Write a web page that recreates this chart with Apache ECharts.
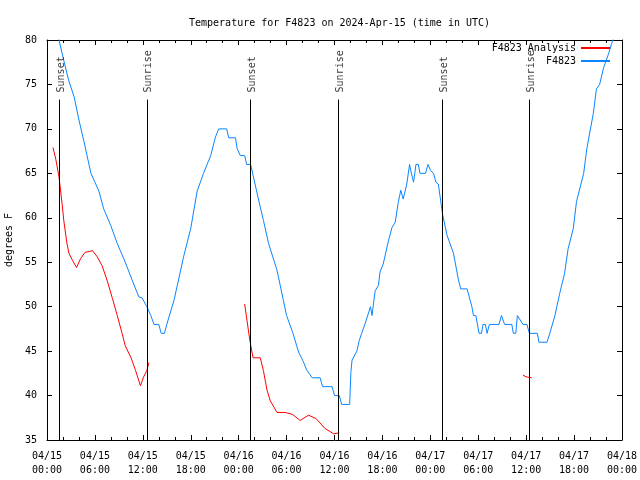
<!DOCTYPE html>
<html>
<head>
<meta charset="utf-8">
<script src="https://cdn.jsdelivr.net/npm/echarts@6/dist/echarts.min.js"></script>
<style>html,body{margin:0;padding:0;background:#fff}#c{width:640px;height:480px}</style>
</head>
<body>
<div id="c"></div>
<script>
// Hours since 2024-04-15 00:00 UTC
var xTickLabels = ['04/15\n00:00','04/15\n06:00','04/15\n12:00','04/15\n18:00','04/16\n00:00','04/16\n06:00','04/16\n12:00','04/16\n18:00','04/17\n00:00','04/17\n06:00','04/17\n12:00','04/17\n18:00','04/18\n00:00'];

var obsHours = [1.2,1.5,2.1,2.7,3.4,4.0,4.6,5.5,6.0,6.5,7.1,8,8.8,9.8,10.7,11.5,11.9,12.5,13,13.4,14,14.3,14.7,15,15.9,17.1,18.0,18.8,19.6,20.5,21.1,21.5,22.5,22.75,23.6,23.8,24.2,24.75,25,25.5,26.5,27.1,27.75,28,28.8,29.6,30,30.8,31.5,32.1,32.5,33.2,34.2,34.5,35.7,36,36.6,36.9,37.9,38.05,38.2,38.8,39.1,39.4,39.8,40.3,40.5,40.7,40.9,41.1,41.5,41.7,42.1,42.75,43.2,43.6,44,44.3,44.6,45.05,45.4,45.6,45.9,46.2,46.5,46.7,47.4,47.7,48.05,48.4,48.7,49,49.55,50.1,50.3,50.9,51.5,51.8,52.6,53.2,53.4,53.7,54.1,54.4,54.6,54.9,55.1,55.4,56.6,56.9,57.1,57.3,58.2,58.4,58.7,58.9,59.1,59.6,60.1,60.4,61.4,61.6,62.6,62.96,63.1,63.6,64.2,64.8,65.25,65.9,66.3,67.2,67.6,68.4,68.8,69.2,69.7,70.3,70.7,71.1];
var obsTemps = [81,80,77.7,75.5,73.6,71,68.7,65,64,63,61,59.1,57.1,55,52.9,51.1,51,50,49,48,48,47,47,48,50.7,55.6,58.8,63,65,67,69.1,70,70,69,69,67.8,67,67,66,66,62,59.7,57.1,57,54.1,50.7,49,47,44.9,43.8,42.9,42,42,41,41,40,40,39,39,42.6,44,45,46.2,47,48,49.4,50,49,50.5,51.8,52.4,53.9,54.8,57.4,58.9,59.5,61.8,63.1,62.1,63.8,66,65.1,64,66,66,65,65,66,65.3,65,64,63.8,60.3,58,58,56,53.1,52,52,50,49,49,47,47,48,48,47,48,48,49,49,48,48,47,47,49,49,48,48,47,47,46,46,47,47,49,51.5,53.7,56.5,58.8,61.8,65,67.8,71.7,74.5,75,76.9,78.4,79.6,80.5];

var anaHours = [0.75,1.1,1.5,1.9,2.1,2.5,2.75,3.2,3.7,4.2,4.75,5.7,6.3,6.9,7.55,8.2,8.8,9.4,9.8,10.5,11.1,11.7,12.1,12.5,12.75, 18, 24.75,25.05,25.4,25.8,26.7,27.1,27.55,27.96,28.8,29.8,30.7,31.7,32.75,33.7,34.8,35.9,36.6, 48, 59.6,60,60.7];
var anaTemps = [67.9,66.6,64.6,61.5,59.7,57.1,56,55.2,54.4,55.4,56.1,56.3,55.6,54.6,52.9,50.9,49,47,45.6,44.3,42.8,41.1,42.1,42.8,43.7, null, 50.3,48.4,46.2,44.25,44.25,42.8,40.6,39.4,38.1,38.1,37.9,37.2,37.8,37.4,36.3,35.7,35.8, null, 42.3,42.1,42];

var sunHours = [1.5,12.5,25.5,36.5,49.5,60.4];
var sunLabels = ['Sunset','Sunrise','Sunset','Sunrise','Sunset','Sunrise'];
var sunLineTop = 73.3;
var sunLabelAnchor = 74.1;

var FONT = 'DejaVu Sans Mono';
function pairs(xs, ys){ return xs.map(function(x,i){ return [x, ys[i] === null ? '-' : ys[i]]; }); }

var chart = echarts.init(document.getElementById('c'), null, {renderer:'canvas'});
var axisCommon = {
  type:'value', min:0, max:72, interval:6,
  axisLine:{show:true, onZero:false, lineStyle:{color:'#000', width:1}},
  axisTick:{show:true, inside:true, length:5, lineStyle:{color:'#000'}},
  minorTick:{show:true, splitNumber:3, length:3, lineStyle:{color:'#000'}},
  splitLine:{show:false}, minorSplitLine:{show:false}
};
var yCommon = {
  type:'value', min:35, max:80, interval:5,
  axisLine:{show:true, onZero:false, lineStyle:{color:'#000', width:1}},
  axisTick:{show:true, inside:true, length:5, lineStyle:{color:'#000'}},
  splitLine:{show:false}
};
var option = {
  animation:false,
  backgroundColor:'#fff',
  title:{text:'Temperature for F4823 on 2024-Apr-15 (time in UTC)', left:184, top:13,
    textStyle:{fontFamily:FONT, fontSize:10, fontWeight:'normal', color:'#000'}},
  grid:{left:47, right:18, top:40, bottom:40, containLabel:false, outerBoundsMode:'none'},
  legend:[
    {data:['F4823 Analysis'], right:30, top:43, icon:'rect', itemWidth:29, itemHeight:2, align:'right', padding:0,
     textStyle:{fontFamily:FONT, fontSize:10, color:'#000'}, selectedMode:false},
    {data:['F4823'], right:30, top:56, icon:'rect', itemWidth:29, itemHeight:2, align:'right', padding:0,
     textStyle:{fontFamily:FONT, fontSize:10, color:'#000'}, selectedMode:false}
  ],
  xAxis:[
    Object.assign({}, axisCommon, {position:'bottom',
      axisLabel:{margin:9, fontFamily:FONT, fontSize:10, color:'#000', lineHeight:14,
        formatter:function(v){ return xTickLabels[Math.round(v/6)]; }}}),
    Object.assign({}, axisCommon, {position:'top', axisLabel:{show:false}})
  ],
  yAxis:[
    Object.assign({}, yCommon, {position:'left', name:'degrees F', nameLocation:'middle', nameGap:33, nameRotate:90,
      nameTextStyle:{fontFamily:FONT, fontSize:10, color:'#000'},
      axisLabel:{margin:10, fontFamily:FONT, fontSize:10, color:'#000'}}),
    Object.assign({}, yCommon, {position:'right', axisLabel:{show:false}})
  ],
  series:[
    {name:'F4823 Analysis', type:'line', data:pairs(anaHours, anaTemps), showSymbol:false, symbol:'none',
     connectNulls:false, lineStyle:{color:'#ff0000', width:1}, itemStyle:{color:'#ff0000'}, clip:true, z:3},
    {name:'F4823', type:'line', data:pairs(obsHours, obsTemps), showSymbol:false, symbol:'none',
     lineStyle:{color:'#0a84ff', width:1}, itemStyle:{color:'#0a84ff'}, clip:true, z:2},
    {name:'sun', type:'scatter', symbolSize:0, data:sunHours.map(function(h){ return [h, sunLabelAnchor]; }),
     silent:true, z:4,
     label:{show:true, position:[0,0], offset:[0,2], rotate:90, align:'left', verticalAlign:'middle',
       fontFamily:FONT, fontSize:10, color:'#000',
       formatter:function(p){ return sunLabels[p.dataIndex]; }},
     markLine:{silent:true, symbol:'none', label:{show:false}, lineStyle:{color:'#000', width:1, type:'solid'},
       data:sunHours.map(function(h){ return [{coord:[h,35]},{coord:[h,sunLineTop]}]; })}}
  ]
};
chart.setOption(option);
</script>
</body>
</html>
